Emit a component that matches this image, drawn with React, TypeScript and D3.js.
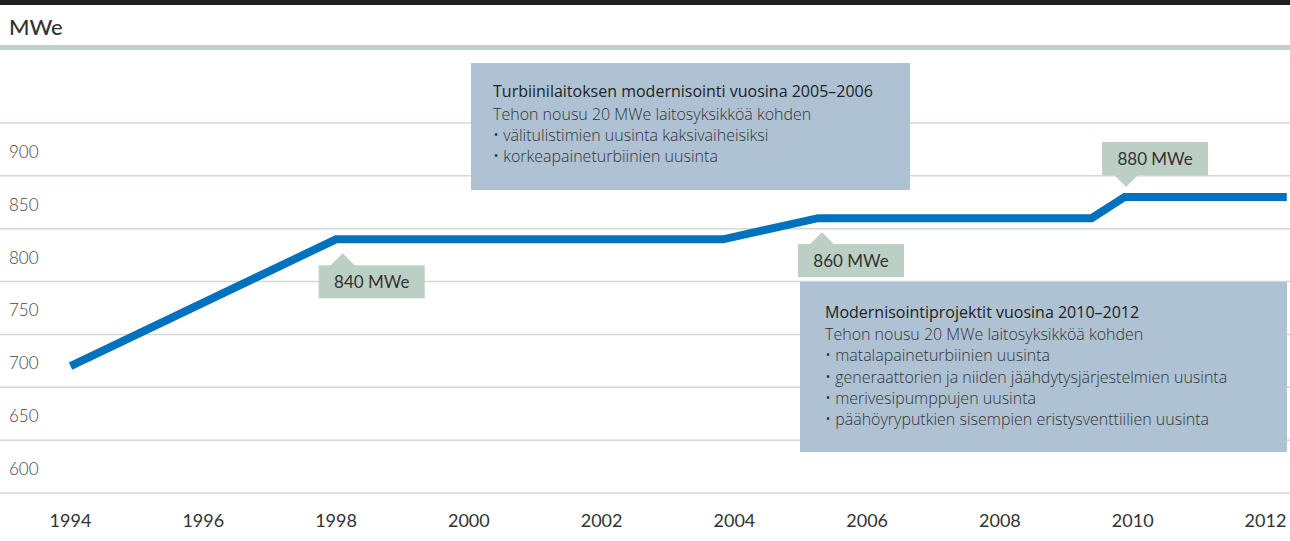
import React from "react";
import * as d3 from "d3";

// teho vuosittain
const years = [1994, 1998, 2003.83, 2005.26, 2009.38, 2009.88, 2012.32];
const capacity = [720, 840, 840, 860, 860, 880, 880];

const xTickYears = [1994, 1996, 1998, 2000, 2002, 2004, 2006, 2008, 2010, 2012];
const yGrid = [600, 650, 700, 750, 800, 850, 900, 950];
const yLabels = [600, 650, 700, 750, 800, 850, 900];

// nuolilaatikot
const calloutText = ["840 MWe", "860 MWe", "880 MWe"];
const calloutYear = [1998.1, 2005.32, 2009.9];
const calloutValue = [840, 860, 880];
const calloutBelow = [true, true, false];

// tekstilaatikot
const box1Title = "Turbiinilaitoksen modernisointi vuosina 2005–2006";
const box1Lines = [
  "Tehon nousu 20 MWe laitosyksikköä kohden",
  "• välitulistimien uusinta kaksivaiheisiksi",
  "• korkeapaineturbiinien uusinta",
];
const box2Title = "Modernisointiprojektit vuosina 2010–2012";
const box2Lines = [
  "Tehon nousu 20 MWe laitosyksikköä kohden",
  "• matalapaineturbiinien uusinta",
  "• generaattorien ja niiden jäähdytysjärjestelmien uusinta",
  "• merivesipumppujen uusinta",
  "• päähöyryputkien sisempien eristysventtiilien uusinta",
];

export default function App() {
  const width = 1290,
    height = 541;
  const font = "Lato, 'DejaVu Sans', sans-serif";
  const boxFont = "'Open Sans', Lato, sans-serif";

  const xScale = d3.scaleLinear().domain([1994, 2012]).range([70.5, 1265.5]);
  const yScale = d3.scaleLinear().domain([600, 950]).range([493, 123]);

  const line = d3
    .line<number>()
    .x((d, i) => xScale(years[i]))
    .y((d) => yScale(d));

  const boxFill = "#aec2d3";
  const labelFill = "#bccfc4";

  return (
    <svg
      width={width}
      height={height}
      style={{ position: "absolute", left: 0, top: 0, fontFamily: font }}
    >
      <rect x={0} y={0} width={width} height={height} fill="white" />
      {/* yläpalkki */}
      <rect x={0} y={0} width={width} height={5} fill="#231f20" />
      <text x={9} y={35} fontSize={22} fill="#333" fontWeight={500}>
        MWe
      </text>
      <rect x={0} y={45} width={width} height={5} fill="#bdd1c5" />

      {/* ruudukko */}
      <g>
        {yGrid.map((v) => (
          <line
            key={v}
            x1={0}
            x2={width}
            y1={yScale(v)}
            y2={yScale(v)}
            stroke="#cddcd2"
            strokeWidth={1.5}
          />
        ))}
        {yLabels.map((v) => (
          <text
            key={v}
            x={9}
            y={yScale(v) - 18}
            fontSize={17}
            fontWeight={300}
            fill="#444"
          >
            {v}
          </text>
        ))}
      </g>

      {/* x-akseli */}
      <g>
        {xTickYears.map((yr) => (
          <text
            key={yr}
            x={xScale(yr)}
            y={527}
            fontSize={18}
            textAnchor="middle"
            fill="#333"
          >
            {yr}
          </text>
        ))}
      </g>

      {/* tekstilaatikko 1 */}
      <rect x={471} y={63} width={439} height={127} fill={boxFill} />
      <g fontFamily={boxFont} fontSize={16}>
        <text x={493} y={97} fill="#222" fontWeight={500}>
          {box1Title}
        </text>
        {box1Lines.map((t, i) => (
          <text key={i} x={493} y={119.5 + i * 21} fill="#333" fontWeight={300}>
            {t}
          </text>
        ))}
      </g>

      {/* tekstilaatikko 2 */}
      <rect x={800} y={282} width={487} height={170} fill={boxFill} />
      <g fontFamily={boxFont} fontSize={16}>
        <text x={825} y={318} fill="#222" fontWeight={500}>
          {box2Title}
        </text>
        {box2Lines.map((t, i) => (
          <text key={i} x={825} y={340 + i * 21.3} fill="#333" fontWeight={300}>
            {t}
          </text>
        ))}
      </g>

      {/* viiva */}
      <path
        d={line(capacity) || ""}
        fill="none"
        stroke="#0071bc"
        strokeWidth={8}
        strokeLinejoin="miter"
      />

      {/* nuolilaatikot */}
      {calloutText.map((t, i) => {
        const ax = xScale(calloutYear[i]);
        const below = calloutBelow[i];
        const ay = below ? yScale(calloutValue[i]) + 14 : yScale(calloutValue[i]) - 10;
        const bw = 106,
          bh = 33;
        const bx = ax - 24;
        const by = below ? ay + 12 : ay - 12 - bh;
        const baseY = below ? ay + 12 : ay - 12;
        return (
          <g key={t}>
            <rect x={bx} y={by} width={bw} height={bh} fill={labelFill} />
            <path
              d={`M${ax - 13},${baseY + (below ? 1 : -1)} L${ax},${ay} L${ax + 13},${baseY + (below ? 1 : -1)} Z`}
              fill={labelFill}
            />
            <text
              x={bx + bw / 2}
              y={by + bh / 2 + 6}
              fontSize={17}
              textAnchor="middle"
              fill="#333"
            >
              {t}
            </text>
          </g>
        );
      })}
    </svg>
  );
}
